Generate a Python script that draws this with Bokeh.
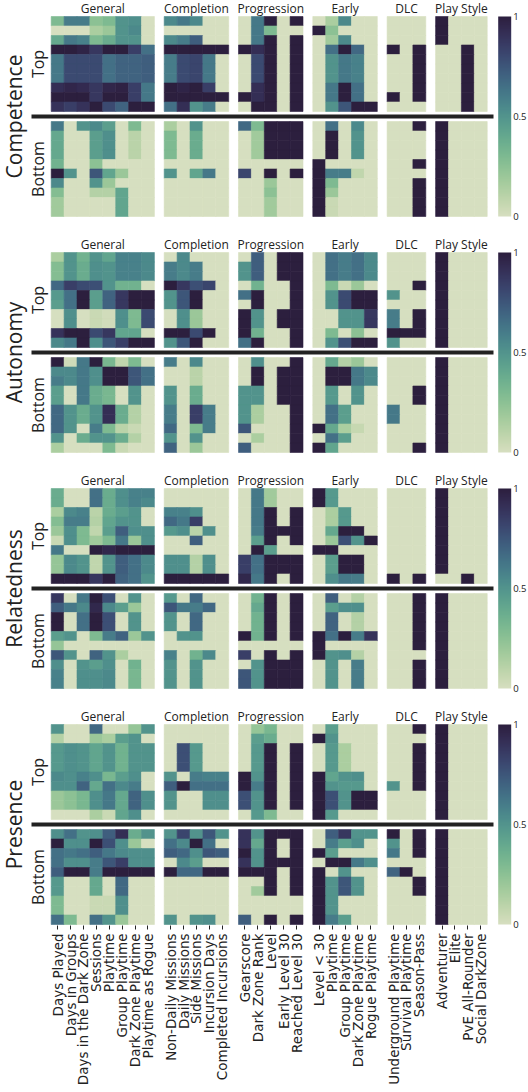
import math
import numpy as np
from bokeh.plotting import figure
from bokeh.models import (Range1d, LinearAxis, FixedTicker, LinearColorMapper,
                          ColorBar, ColumnDataSource)
from bokeh.transform import transform
from bokeh.core.properties import value
from bokeh.embed import file_html
from bokeh.resources import INLINE

# ---------------------------------------------------------------- labels
groups = ["General", "Completion", "Progression", "Early", "DLC", "Play Style"]
general_cols = ["Days Played", "Days in Groups", "Days in the Dark Zone", "Sessions",
                "Playtime", "Group Playtime", "Dark Zone Playtime", "Playtime as Rogue"]
completion_cols = ["Non-Daily Missions", "Daily Missions", "Side Missions",
                   "Incursion Days", "Completed Incursions"]
progression_cols = ["Gearscore", "Dark Zone Rank", "Level", "Early Level 30",
                    "Reached Level 30"]
early_cols = ["Level < 30", "Playtime", "Group Playtime", "Dark Zone Playtime",
              "Rogue Playtime"]
dlc_cols = ["Underground Playtime", "Survival Playtime", "Season-Pass"]
style_cols = ["Adventurer", "Elite", "PvE All-Rounder", "Social DarkZone"]
group_columns = [general_cols, completion_cols, progression_cols, early_cols,
                 dlc_cols, style_cols]

dimensions = ["Competence", "Autonomy", "Relatedness", "Presence"]
halves = ["Top", "Bottom"]

# ---------------------------------------------------------------- values
# each row: General(8) | Completion(5) | Progression(5) | Early(5) | DLC(3) | Play Style(4)
competence_top = [
    [0.30, 0.60, 0.60, 0.25, 0.30, 0.50, 0.52, 0.00,  0.55, 0.62, 0.55, 0.00, 0.00,  0.00, 0.62, 1.00, 0.00, 1.00,  0.00, 0.15, 0.55, 0.00, 0.00,  0.00, 0.00, 0.00,  1, 0, 0, 0],
    [0.00, 0.00, 0.00, 0.15, 0.20, 0.50, 0.55, 0.00,  0.00, 0.00, 0.00, 0.00, 0.00,  0.00, 0.62, 0.30, 0.00, 0.00,  1.00, 0.25, 0.00, 0.00, 0.00,  0.00, 0.00, 0.00,  1, 0, 0, 0],
    [0.40, 0.62, 0.58, 0.30, 0.38, 0.50, 0.50, 0.00,  0.55, 0.60, 0.72, 0.00, 0.00,  0.00, 0.62, 1.00, 0.00, 1.00,  0.00, 0.18, 0.55, 0.00, 0.00,  0.00, 0.00, 0.00,  1, 0, 0, 0],
    [1.00, 1.00, 0.97, 0.88, 1.00, 1.00, 0.85, 0.65,  1.00, 1.00, 1.00, 1.00, 1.00,  1.00, 0.92, 1.00, 0.00, 1.00,  0.00, 0.65, 1.00, 0.68, 0.00,  1.00, 0.00, 1.00,  0, 0, 1, 0],
    [0.62, 0.80, 0.80, 0.80, 0.65, 0.70, 0.70, 0.72,  0.60, 0.80, 0.82, 0.62, 0.00,  0.00, 0.80, 1.00, 0.00, 1.00,  0.00, 0.50, 0.62, 0.58, 0.00,  0.00, 0.00, 1.00,  0, 0, 1, 0],
    [0.62, 0.80, 0.80, 0.80, 0.65, 0.70, 0.70, 0.72,  0.60, 0.80, 0.82, 0.62, 0.00,  0.00, 0.80, 1.00, 0.00, 1.00,  0.00, 0.50, 0.62, 0.58, 0.00,  0.00, 0.00, 1.00,  0, 0, 1, 0],
    [0.62, 0.80, 0.80, 0.80, 0.65, 0.70, 0.70, 0.72,  0.60, 0.80, 0.82, 0.62, 0.00,  0.00, 0.80, 1.00, 0.00, 1.00,  0.00, 0.50, 0.62, 0.58, 0.00,  0.00, 0.00, 1.00,  0, 0, 1, 0],
    [0.92, 0.96, 0.94, 0.88, 0.96, 0.98, 0.85, 0.62,  1.00, 0.97, 1.00, 0.85, 0.00,  0.00, 0.92, 1.00, 0.00, 1.00,  0.00, 0.62, 1.00, 0.65, 0.00,  0.00, 0.00, 1.00,  0, 0, 1, 0],
    [1.00, 1.00, 1.00, 0.88, 1.00, 1.00, 0.85, 0.62,  1.00, 1.00, 1.00, 1.00, 1.00,  1.00, 0.92, 1.00, 0.00, 1.00,  0.00, 0.62, 1.00, 0.65, 0.00,  1.00, 0.00, 1.00,  0, 0, 1, 0],
    [0.90, 0.85, 0.90, 1.00, 0.80, 0.70, 1.00, 1.00,  0.65, 0.92, 0.50, 0.60, 0.00,  0.00, 1.00, 1.00, 0.00, 1.00,  0.00, 0.50, 0.75, 1.00, 1.00,  0.00, 0.00, 0.00,  0, 0, 1, 0],
]
competence_bottom = [
    [0.62, 0.00, 0.50, 0.55, 0.45, 0.00, 0.30, 0.00,  0.15, 0.00, 0.50, 0.00, 0.00,  0.68, 0.30, 1.00, 1.00, 1.00,  0.00, 0.65, 0.00, 0.55, 0.00,  0.00, 0.00, 1.00,  1, 0, 0, 0],
    [0.40, 0.00, 0.00, 0.45, 0.52, 0.00, 0.10, 0.00,  0.30, 0.00, 0.38, 0.00, 0.00,  0.00, 0.18, 1.00, 1.00, 1.00,  0.00, 1.00, 0.00, 0.50, 0.00,  0.00, 0.00, 0.00,  1, 0, 0, 0],
    [0.40, 0.00, 0.00, 0.45, 0.52, 0.00, 0.10, 0.00,  0.30, 0.00, 0.38, 0.00, 0.00,  0.00, 0.18, 1.00, 1.00, 1.00,  0.00, 1.00, 0.00, 0.50, 0.00,  0.00, 0.00, 0.00,  1, 0, 0, 0],
    [0.40, 0.00, 0.00, 0.45, 0.52, 0.00, 0.10, 0.00,  0.30, 0.00, 0.38, 0.00, 0.00,  0.00, 0.18, 1.00, 1.00, 1.00,  0.00, 1.00, 0.00, 0.50, 0.00,  0.00, 0.00, 0.00,  1, 0, 0, 0],
    [0.35, 0.00, 0.00, 0.25, 0.00, 0.00, 0.00, 0.00,  0.00, 0.00, 0.00, 0.00, 0.00,  0.00, 0.00, 0.00, 0.00, 0.00,  1.00, 0.00, 0.00, 0.00, 0.00,  0.00, 0.00, 1.00,  1, 0, 0, 0],
    [1.00, 0.50, 0.00, 0.75, 0.42, 0.20, 0.00, 0.00,  0.50, 0.00, 0.42, 0.62, 0.00,  0.82, 0.00, 1.00, 0.00, 1.00,  1.00, 0.60, 0.60, 0.08, 0.00,  0.00, 0.00, 0.00,  1, 0, 0, 0],
    [0.55, 0.00, 0.00, 0.50, 0.20, 0.00, 0.00, 0.00,  0.00, 0.00, 0.00, 0.00, 0.00,  0.00, 0.00, 0.20, 0.00, 0.00,  1.00, 0.30, 0.00, 0.00, 0.00,  0.00, 0.00, 1.00,  1, 0, 0, 0],
    [0.28, 0.00, 0.00, 0.12, 0.12, 0.42, 0.00, 0.00,  0.00, 0.00, 0.00, 0.00, 0.00,  0.00, 0.00, 0.25, 0.00, 0.00,  1.00, 0.20, 0.00, 0.00, 0.00,  0.00, 0.00, 1.00,  1, 0, 0, 0],
    [0.18, 0.00, 0.00, 0.00, 0.00, 0.42, 0.00, 0.00,  0.00, 0.00, 0.00, 0.00, 0.00,  0.00, 0.00, 0.18, 0.00, 0.00,  1.00, 0.05, 0.00, 0.00, 0.00,  0.00, 0.00, 1.00,  1, 0, 0, 0],
    [0.18, 0.00, 0.00, 0.00, 0.00, 0.42, 0.00, 0.00,  0.00, 0.00, 0.00, 0.00, 0.00,  0.00, 0.00, 0.18, 0.00, 0.00,  1.00, 0.05, 0.00, 0.00, 0.00,  0.00, 0.00, 1.00,  1, 0, 0, 0],
]
autonomy_top = [
    [0.15, 0.50, 0.35, 0.50, 0.42, 0.58, 0.58, 0.55,  0.00, 0.55, 0.00, 0.00, 0.00,  0.00, 0.72, 0.00, 1.00, 1.00,  0.00, 0.65, 0.60, 0.65, 0.55,  0.00, 0.00, 0.00,  1, 0, 0, 0],
    [0.28, 0.50, 0.38, 0.52, 0.50, 0.58, 0.58, 0.55,  0.60, 0.55, 0.60, 0.00, 0.00,  0.50, 0.72, 0.00, 1.00, 1.00,  0.00, 0.65, 0.60, 0.65, 0.55,  0.00, 0.00, 0.00,  1, 0, 0, 0],
    [0.28, 0.50, 0.38, 0.52, 0.50, 0.58, 0.58, 0.55,  0.60, 0.55, 0.60, 0.00, 0.00,  0.50, 0.72, 0.00, 1.00, 1.00,  0.00, 0.65, 0.60, 0.65, 0.55,  0.00, 0.00, 0.00,  1, 0, 0, 0],
    [0.68, 0.85, 0.80, 0.78, 0.50, 0.35, 0.35, 0.00,  1.00, 0.88, 0.78, 0.82, 0.00,  0.00, 0.35, 0.00, 0.00, 1.00,  0.00, 0.30, 0.05, 0.20, 0.00,  0.00, 0.00, 1.00,  1, 0, 0, 0],
    [0.48, 0.65, 1.00, 0.45, 0.70, 0.88, 1.00, 1.00,  0.50, 0.75, 1.00, 0.00, 0.00,  0.65, 1.00, 0.00, 0.00, 1.00,  0.00, 0.50, 0.80, 1.00, 1.00,  0.50, 0.00, 0.00,  1, 0, 0, 0],
    [0.45, 0.65, 1.00, 0.45, 0.70, 0.88, 1.00, 1.00,  0.50, 0.75, 1.00, 0.00, 0.00,  0.00, 1.00, 0.00, 0.00, 1.00,  0.00, 0.50, 0.80, 1.00, 1.00,  0.00, 0.00, 0.00,  1, 0, 0, 0],
    [0.00, 0.52, 0.00, 0.05, 0.02, 0.52, 0.30, 0.80,  0.00, 0.52, 0.20, 0.00, 0.00,  1.00, 0.50, 0.00, 1.00, 1.00,  0.00, 0.00, 0.50, 0.50, 0.88,  0.60, 0.00, 1.00,  1, 0, 0, 0],
    [0.00, 0.52, 0.00, 0.05, 0.02, 0.52, 0.30, 0.80,  0.00, 0.52, 0.20, 0.00, 0.00,  1.00, 0.50, 0.00, 1.00, 1.00,  0.00, 0.00, 0.50, 0.50, 0.88,  0.60, 0.00, 1.00,  1, 0, 0, 0],
    [0.90, 1.00, 1.00, 0.80, 0.88, 0.42, 0.42, 0.00,  1.00, 1.00, 0.80, 1.00, 0.00,  1.00, 0.35, 0.00, 0.00, 1.00,  0.00, 0.30, 0.00, 0.25, 0.00,  1.00, 1.00, 1.00,  1, 0, 0, 0],
    [0.55, 0.62, 1.00, 0.52, 0.75, 0.85, 1.00, 1.00,  0.50, 0.75, 1.00, 0.00, 0.00,  0.65, 1.00, 0.00, 0.00, 1.00,  0.00, 0.50, 0.78, 1.00, 1.00,  0.50, 0.00, 0.00,  1, 0, 0, 0],
]
autonomy_bottom = [
    [1.00, 0.03, 0.62, 1.00, 0.32, 0.08, 0.30, 0.00,  0.60, 0.00, 0.55, 0.00, 0.00,  0.00, 0.52, 0.00, 0.00, 1.00,  0.00, 0.40, 0.12, 0.20, 0.00,  0.00, 0.00, 0.00,  1, 0, 0, 0],
    [0.55, 0.55, 0.62, 0.52, 1.00, 1.00, 0.75, 0.65,  0.00, 0.00, 0.10, 0.00, 0.00,  0.00, 1.00, 0.00, 1.00, 1.00,  0.00, 1.00, 1.00, 0.62, 0.55,  0.00, 0.00, 0.00,  1, 0, 0, 0],
    [0.60, 0.55, 0.62, 0.52, 1.00, 1.00, 0.75, 0.65,  0.00, 0.00, 0.10, 0.00, 0.00,  0.00, 1.00, 0.00, 1.00, 1.00,  0.00, 1.00, 1.00, 0.62, 0.55,  0.00, 0.00, 0.00,  1, 0, 0, 0],
    [0.45, 0.00, 0.62, 0.38, 0.32, 0.00, 0.50, 0.00,  0.50, 0.00, 0.38, 0.00, 0.00,  0.50, 0.50, 0.00, 1.00, 1.00,  0.00, 0.48, 0.00, 0.50, 0.00,  0.00, 0.00, 1.00,  1, 0, 0, 0],
    [0.45, 0.00, 0.62, 0.38, 0.32, 0.00, 0.50, 0.00,  0.50, 0.00, 0.38, 0.00, 0.00,  0.50, 0.50, 0.00, 1.00, 1.00,  0.00, 0.48, 0.00, 0.50, 0.00,  0.00, 0.00, 1.00,  1, 0, 0, 0],
    [0.68, 0.50, 0.38, 0.50, 0.92, 0.38, 0.12, 0.00,  0.60, 0.00, 0.85, 0.60, 0.00,  0.50, 0.15, 0.00, 0.00, 1.00,  0.00, 0.65, 0.45, 0.00, 0.00,  0.62, 0.00, 0.00,  1, 0, 0, 0],
    [0.68, 0.50, 0.38, 0.50, 0.92, 0.38, 0.12, 0.00,  0.60, 0.00, 0.85, 0.60, 0.00,  0.50, 0.15, 0.00, 0.00, 1.00,  0.00, 0.65, 0.45, 0.00, 0.00,  0.62, 0.00, 0.00,  1, 0, 0, 0],
    [0.68, 0.50, 0.00, 0.60, 0.30, 0.10, 0.05, 0.00,  0.68, 0.00, 0.30, 0.60, 0.00,  0.75, 0.00, 0.00, 0.00, 1.00,  1.00, 0.40, 0.15, 0.06, 0.00,  0.00, 0.00, 0.00,  1, 0, 0, 0],
    [0.50, 0.00, 0.38, 0.50, 0.50, 0.38, 0.12, 0.00,  0.50, 0.00, 0.50, 0.00, 0.00,  0.00, 0.15, 0.00, 0.00, 1.00,  0.00, 0.65, 0.45, 0.00, 0.00,  0.00, 0.00, 0.00,  1, 0, 0, 0],
    [0.15, 0.00, 0.00, 0.00, 0.30, 0.05, 0.00, 0.00,  0.70, 0.00, 0.20, 0.00, 0.00,  0.72, 0.00, 0.00, 0.00, 1.00,  1.00, 0.42, 0.00, 0.00, 0.00,  0.00, 0.00, 1.00,  1, 0, 0, 0],
]
relatedness_top = [
    [0.38, 0.00, 0.00, 0.65, 0.38, 0.52, 0.58, 0.58,  0.00, 0.00, 0.00, 0.00, 0.00,  0.00, 0.62, 0.18, 0.00, 0.00,  1.00, 0.48, 0.00, 0.00, 0.00,  0.00, 0.00, 0.00,  1, 0, 0, 0],
    [0.38, 0.00, 0.00, 0.65, 0.38, 0.52, 0.58, 0.55,  0.00, 0.00, 0.00, 0.00, 0.00,  0.00, 0.62, 0.18, 0.00, 0.00,  1.00, 0.48, 0.00, 0.00, 0.00,  0.00, 0.00, 0.00,  1, 0, 0, 0],
    [0.15, 0.55, 0.58, 0.10, 0.38, 0.45, 0.50, 0.00,  0.58, 0.58, 0.52, 0.00, 0.00,  0.00, 0.62, 1.00, 0.00, 1.00,  0.00, 0.15, 0.48, 0.00, 0.00,  0.00, 0.00, 0.00,  1, 0, 0, 0],
    [0.28, 0.60, 0.60, 0.12, 0.42, 0.50, 0.50, 0.00,  0.68, 0.62, 0.85, 0.00, 0.00,  0.00, 0.62, 1.00, 0.00, 1.00,  0.00, 0.15, 0.48, 0.00, 0.00,  0.00, 0.00, 0.00,  1, 0, 0, 0],
    [0.20, 0.52, 0.30, 0.08, 0.45, 0.72, 0.52, 0.52,  0.48, 0.52, 0.10, 0.52, 0.00,  0.00, 0.60, 1.00, 1.00, 1.00,  0.00, 0.40, 1.00, 1.00, 0.00,  0.00, 0.00, 0.00,  1, 0, 0, 0],
    [0.05, 0.52, 0.30, 0.18, 0.30, 0.62, 0.20, 0.52,  0.00, 0.00, 0.72, 0.00, 0.00,  0.00, 0.45, 1.00, 0.00, 1.00,  0.00, 0.20, 0.78, 0.50, 1.00,  0.00, 0.00, 0.00,  1, 0, 0, 0],
    [0.62, 0.00, 0.00, 1.00, 0.95, 1.00, 1.00, 1.00,  0.00, 0.00, 0.00, 0.00, 0.00,  0.00, 1.00, 0.45, 0.00, 0.00,  1.00, 1.00, 0.00, 0.00, 0.00,  0.00, 0.00, 0.00,  1, 0, 0, 0],
    [0.22, 0.55, 0.50, 0.08, 0.50, 0.72, 0.65, 0.55,  0.52, 0.52, 0.12, 0.52, 0.00,  0.85, 0.65, 1.00, 1.00, 1.00,  0.00, 0.45, 1.00, 1.00, 0.00,  0.00, 0.00, 0.00,  1, 0, 0, 0],
    [0.22, 0.55, 0.50, 0.08, 0.50, 0.72, 0.65, 0.55,  0.52, 0.52, 0.12, 0.52, 0.00,  0.85, 0.65, 1.00, 1.00, 1.00,  0.00, 0.45, 1.00, 1.00, 0.00,  0.00, 0.00, 0.00,  1, 0, 0, 0],
    [1.00, 1.00, 1.00, 0.88, 1.00, 0.70, 0.65, 0.50,  1.00, 1.00, 1.00, 1.00, 1.00,  0.95, 0.62, 1.00, 0.00, 1.00,  0.00, 0.52, 0.62, 0.60, 0.00,  1.00, 0.00, 1.00,  0, 0, 1, 0],
]
relatedness_bottom = [
    [0.88, 0.00, 0.62, 1.00, 0.78, 0.00, 0.50, 0.00,  0.48, 0.00, 0.68, 0.00, 0.00,  0.00, 0.35, 1.00, 0.00, 1.00,  0.00, 0.72, 0.00, 0.12, 0.00,  0.00, 0.00, 1.00,  1, 0, 0, 0],
    [0.72, 0.62, 0.55, 0.95, 0.55, 0.45, 0.20, 0.00,  0.75, 0.62, 0.60, 0.68, 0.00,  0.00, 0.40, 1.00, 0.00, 1.00,  0.00, 0.45, 0.52, 0.52, 0.00,  0.00, 0.00, 1.00,  1, 0, 0, 0],
    [1.00, 0.00, 0.65, 1.00, 0.78, 0.00, 0.50, 0.00,  0.50, 0.00, 0.68, 0.00, 0.00,  0.00, 0.35, 1.00, 0.00, 1.00,  0.00, 0.70, 0.00, 0.12, 0.00,  0.00, 0.00, 1.00,  1, 0, 0, 0],
    [1.00, 0.00, 0.65, 1.00, 0.78, 0.00, 0.50, 0.00,  0.50, 0.00, 0.68, 0.00, 0.00,  0.00, 0.35, 1.00, 0.00, 1.00,  0.00, 0.70, 0.00, 0.12, 0.00,  0.00, 0.00, 1.00,  1, 0, 0, 0],
    [0.45, 0.50, 0.00, 0.30, 0.60, 0.70, 0.20, 0.50,  0.00, 0.50, 0.50, 0.00, 0.00,  1.00, 0.35, 1.00, 0.00, 1.00,  1.00, 0.65, 1.00, 0.60, 0.90,  0.00, 0.00, 1.00,  1, 0, 0, 0],
    [0.22, 0.00, 0.00, 0.00, 0.00, 0.00, 0.00, 0.00,  0.00, 0.00, 0.00, 0.00, 0.00,  0.00, 0.00, 0.00, 0.00, 0.00,  1.00, 0.00, 0.00, 0.00, 0.00,  0.00, 0.00, 1.00,  1, 0, 0, 0],
    [0.75, 0.50, 0.00, 0.70, 0.50, 0.15, 0.00, 0.00,  0.58, 0.00, 0.35, 0.55, 0.00,  0.85, 0.00, 1.00, 0.00, 1.00,  1.00, 0.50, 0.52, 0.12, 0.00,  0.00, 0.00, 0.00,  1, 0, 0, 0],
    [0.52, 0.00, 0.50, 0.45, 0.52, 0.00, 0.35, 0.00,  0.50, 0.00, 0.50, 0.00, 0.00,  0.00, 0.50, 1.00, 1.00, 1.00,  0.00, 0.50, 0.00, 0.60, 0.00,  0.00, 0.00, 1.00,  1, 0, 0, 0],
    [0.58, 0.00, 0.52, 0.52, 0.55, 0.00, 0.32, 0.00,  0.50, 0.00, 0.50, 0.00, 0.00,  0.75, 0.50, 1.00, 1.00, 1.00,  0.00, 0.50, 0.00, 0.60, 0.00,  0.00, 0.00, 1.00,  1, 0, 0, 0],
    [0.58, 0.00, 0.52, 0.52, 0.55, 0.00, 0.32, 0.00,  0.50, 0.00, 0.50, 0.00, 0.00,  0.75, 0.50, 1.00, 1.00, 1.00,  0.00, 0.50, 0.00, 0.60, 0.00,  0.00, 0.00, 1.00,  1, 0, 0, 0],
]
presence_top = [
    [0.50, 0.00, 0.00, 0.68, 0.00, 0.00, 0.22, 0.50,  0.00, 0.00, 0.00, 0.00, 0.00,  0.00, 0.22, 0.32, 0.00, 0.00,  0.00, 0.45, 0.00, 0.00, 0.00,  0.00, 0.00, 1.00,  1, 0, 0, 0],
    [0.12, 0.00, 0.00, 0.20, 0.15, 0.45, 0.50, 0.00,  0.00, 0.00, 0.00, 0.00, 0.00,  0.00, 0.45, 0.38, 0.00, 0.00,  1.00, 0.50, 0.00, 0.00, 0.00,  0.00, 0.00, 0.00,  1, 0, 0, 0],
    [0.48, 0.52, 0.50, 0.42, 0.50, 0.35, 0.50, 0.50,  0.00, 0.78, 0.48, 0.00, 0.00,  0.00, 0.48, 1.00, 0.00, 1.00,  0.00, 0.48, 0.15, 0.00, 0.00,  0.00, 0.00, 1.00,  1, 0, 0, 0],
    [0.48, 0.52, 0.50, 0.42, 0.50, 0.35, 0.50, 0.50,  0.00, 0.78, 0.48, 0.00, 0.00,  0.00, 0.48, 1.00, 0.00, 1.00,  0.00, 0.48, 0.15, 0.00, 0.00,  0.00, 0.00, 1.00,  1, 0, 0, 0],
    [0.48, 0.52, 0.50, 0.42, 0.50, 0.35, 0.50, 0.50,  0.00, 0.78, 0.48, 0.00, 0.00,  0.00, 0.48, 1.00, 0.00, 1.00,  0.00, 0.48, 0.15, 0.00, 0.00,  0.00, 0.00, 1.00,  1, 0, 0, 0],
    [0.55, 0.52, 0.58, 0.52, 0.32, 0.45, 0.52, 0.00,  0.50, 0.00, 0.60, 0.58, 0.58,  1.00, 0.50, 1.00, 0.00, 1.00,  1.00, 0.42, 0.50, 0.52, 0.00,  0.00, 0.00, 1.00,  1, 0, 0, 0],
    [0.52, 0.52, 0.70, 0.40, 0.65, 0.55, 0.60, 0.00,  0.72, 1.00, 0.65, 0.65, 0.65,  1.00, 0.60, 1.00, 0.00, 1.00,  1.00, 0.50, 0.48, 0.48, 0.00,  0.50, 0.00, 1.00,  1, 0, 0, 0],
    [0.20, 0.25, 0.32, 0.52, 0.62, 0.40, 0.70, 0.52,  0.50, 0.00, 0.00, 0.52, 0.52,  0.78, 0.50, 1.00, 0.00, 1.00,  1.00, 0.78, 0.50, 1.00, 1.00,  0.00, 0.00, 0.00,  1, 0, 0, 0],
    [0.20, 0.25, 0.32, 0.52, 0.62, 0.40, 0.70, 0.52,  0.50, 0.00, 0.00, 0.52, 0.52,  0.78, 0.50, 1.00, 0.00, 1.00,  1.00, 0.78, 0.50, 1.00, 1.00,  0.00, 0.00, 0.00,  1, 0, 0, 0],
    [0.00, 0.00, 0.00, 0.15, 0.05, 0.42, 0.52, 0.00,  0.00, 0.00, 0.00, 0.00, 0.00,  0.00, 0.48, 0.30, 0.00, 0.00,  1.00, 0.48, 0.00, 0.00, 0.00,  0.00, 0.00, 0.00,  1, 0, 0, 0],
]
presence_bottom = [
    [0.52, 0.65, 0.50, 0.52, 0.72, 0.92, 0.38, 0.50,  0.50, 0.82, 0.50, 0.75, 0.50,  0.90, 0.50, 1.00, 1.00, 1.00,  0.00, 0.72, 0.88, 0.50, 0.50,  1.00, 0.00, 1.00,  1, 0, 0, 0],
    [1.00, 0.52, 0.52, 1.00, 0.78, 0.52, 0.20, 0.00,  0.65, 0.55, 1.00, 0.65, 0.00,  0.90, 0.40, 1.00, 0.00, 1.00,  0.00, 0.60, 0.45, 0.52, 0.00,  0.50, 0.00, 1.00,  1, 0, 0, 0],
    [0.65, 0.62, 0.65, 0.72, 0.62, 0.55, 0.52, 0.52,  0.72, 0.68, 0.52, 0.75, 0.72,  1.00, 0.50, 1.00, 0.00, 1.00,  1.00, 0.45, 0.00, 0.00, 0.00,  0.62, 0.00, 1.00,  1, 0, 0, 0],
    [0.65, 0.52, 0.52, 0.60, 0.75, 0.85, 0.52, 0.52,  0.00, 0.55, 0.45, 0.00, 0.00,  0.90, 0.50, 1.00, 1.00, 1.00,  0.00, 1.00, 1.00, 0.62, 0.52,  0.00, 0.00, 0.00,  1, 0, 0, 0],
    [0.72, 1.00, 1.00, 0.60, 1.00, 1.00, 1.00, 1.00,  1.00, 0.68, 0.68, 1.00, 1.00,  1.00, 1.00, 1.00, 0.00, 1.00,  1.00, 0.00, 0.50, 0.00, 0.00,  0.70, 1.00, 0.00,  1, 0, 0, 0],
    [0.48, 0.00, 0.00, 0.40, 0.00, 0.68, 0.00, 0.00,  0.00, 0.00, 0.00, 0.00, 0.00,  0.00, 0.00, 1.00, 0.00, 1.00,  1.00, 0.50, 0.75, 0.50, 0.00,  0.00, 0.00, 1.00,  1, 0, 0, 0],
    [0.48, 0.00, 0.00, 0.40, 0.00, 0.68, 0.00, 0.00,  0.00, 0.00, 0.00, 0.00, 0.00,  0.00, 0.18, 1.00, 0.00, 1.00,  1.00, 0.50, 0.75, 0.50, 0.00,  0.00, 0.00, 1.00,  1, 0, 0, 0],
    [0.30, 0.00, 0.00, 0.05, 0.05, 0.52, 0.00, 0.00,  0.00, 0.00, 0.00, 0.00, 0.00,  0.00, 0.00, 0.00, 0.00, 0.00,  1.00, 0.50, 0.00, 0.00, 0.00,  0.00, 0.00, 0.00,  1, 0, 0, 0],
    [0.30, 0.00, 0.00, 0.05, 0.05, 0.52, 0.00, 0.00,  0.00, 0.00, 0.00, 0.00, 0.00,  0.00, 0.00, 0.00, 0.00, 0.00,  1.00, 0.50, 0.00, 0.00, 0.00,  0.00, 0.00, 0.00,  1, 0, 0, 0],
    [0.65, 0.30, 0.00, 0.65, 0.50, 0.20, 0.00, 0.00,  0.50, 0.00, 0.50, 0.52, 0.00,  0.72, 0.00, 1.00, 0.00, 1.00,  1.00, 0.60, 0.45, 0.00, 0.00,  0.00, 0.00, 0.00,  1, 0, 0, 0],
]
panels = [
    (competence_top, competence_bottom),
    (autonomy_top, autonomy_bottom),
    (relatedness_top, relatedness_bottom),
    (presence_top, presence_bottom),
]

# ---------------------------------------------------------------- colours
def cubehelix(n=256, start=0.5, rot=-0.75, gamma=1.0, hue=0.8, light=0.85, dark=0.15):
    x = np.linspace(light, dark, n)
    xg = x ** gamma
    a = hue * xg * (1 - xg) / 2
    phi = 2 * np.pi * (start / 3 + rot * x)
    r = xg + a * (-0.14861 * np.cos(phi) + 1.78277 * np.sin(phi))
    g = xg + a * (-0.29227 * np.cos(phi) - 0.90649 * np.sin(phi))
    b = xg + a * (1.97294 * np.cos(phi))
    rgb = np.clip(np.stack([r, g, b], axis=1), 0, 1)
    return ["#%02x%02x%02x" % tuple(int(round(c * 255)) for c in row) for row in rgb]

palette = cubehelix()
mapper = LinearColorMapper(palette=palette, low=0, high=1)

# ---------------------------------------------------------------- layout (pixels)
W, FRAME_H = 528, 925
COL_W, GAP, X0 = 12.9, 9.8, 50.7
ROW_H, Y0, HALF_STEP, PANEL_STEP = 9.5, 16.0, 105.0, 236.0

col_names, col_x, group_x = [], [], []
i = 0
for g, cols in enumerate(group_columns):
    start = X0 + i * COL_W + g * GAP
    group_x.append(start + len(cols) * COL_W / 2)
    for name in cols:
        col_names.append(name)
        col_x.append(round(X0 + (i + 0.5) * COL_W + g * GAP, 2))
        i += 1

xs, ys, vs = [], [], []
for pi, (top, bottom) in enumerate(panels):
    for hi, mat in enumerate((top, bottom)):
        for r, row in enumerate(mat):
            for c, v in enumerate(row):
                xs.append(col_x[c])
                ys.append(Y0 + pi * PANEL_STEP + hi * HALF_STEP + (r + 0.5) * ROW_H)
                vs.append(float(v))
cells = ColumnDataSource(dict(x=xs, y=ys, v=vs))

p = figure(frame_width=W, frame_height=FRAME_H,
           x_range=Range1d(0, W), y_range=Range1d(FRAME_H, 0),
           output_backend="svg", toolbar_location=None,
           x_axis_location=None, y_axis_location=None, min_border=0,
           outline_line_color=None, background_fill_color="white")
p.grid.visible = False

p.rect(x="x", y="y", width=COL_W, height=ROW_H, source=cells,
       fill_color=transform("v", mapper), line_color=transform("v", mapper),
       line_width=0.6)

FONT = value("Open Sans")

# group headings above each block of cells
gx, gy, gt = [], [], []
for pi in range(len(panels)):
    for g, name in enumerate(groups):
        gx.append(group_x[g]); gy.append(Y0 + pi * PANEL_STEP - 8.5); gt.append(name)
p.text(x=gx, y=gy, text=gt, text_font=FONT, text_font_size="12px",
       text_align="center", text_baseline="middle", text_color="#222222")

# row labels, dividers and colour bars per dimension
for pi, dim in enumerate(dimensions):
    y_top = Y0 + pi * PANEL_STEP
    mid = y_top + HALF_STEP - 5
    p.segment(x0=[31], y0=[mid], x1=[493], y1=[mid], line_width=4, line_color="#222222")
    p.text(x=[13], y=[mid], text=[dim], angle=math.pi / 2, text_font=FONT,
           text_font_size="21px", text_align="center", text_baseline="middle",
           text_color="#222222")
    for hi, half in enumerate(halves):
        yc = y_top + hi * HALF_STEP + 5 * ROW_H
        p.text(x=[37], y=[yc], text=[half], angle=math.pi / 2, text_font=FONT,
               text_font_size="16px", text_align="center", text_baseline="middle",
               text_color="#222222")
    cb = ColorBar(color_mapper=mapper, location=(497.7, FRAME_H - (y_top + HALF_STEP + 10 * ROW_H)),
                  width=13, height=int(HALF_STEP + 10 * ROW_H), padding=0, margin=0,
                  ticker=FixedTicker(ticks=[0, 0.5, 1]), major_tick_line_color=None,
                  minor_tick_line_color=None, label_standoff=2,
                  major_label_text_font="Open Sans", major_label_text_font_size="9.5px",
                  major_label_text_color="#222222",
                  background_fill_alpha=0, border_line_color=None, bar_line_color=None)
    p.add_layout(cb)

# column labels along the bottom
axis = LinearAxis(ticker=FixedTicker(ticks=col_x),
                  major_label_overrides={x: n for x, n in zip(col_x, col_names)},
                  major_label_orientation=math.pi / 2,
                  axis_line_color=None, major_tick_in=0, major_tick_out=4,
                  major_tick_line_color="#222222", minor_tick_line_color=None,
                  major_label_standoff=4, major_label_text_font="DejaVu Sans",
                  major_label_text_font_size="13.5px", major_label_text_color="#222222")
p.add_layout(axis, "below")

open("out.html", "w").write(file_html(p, INLINE))
